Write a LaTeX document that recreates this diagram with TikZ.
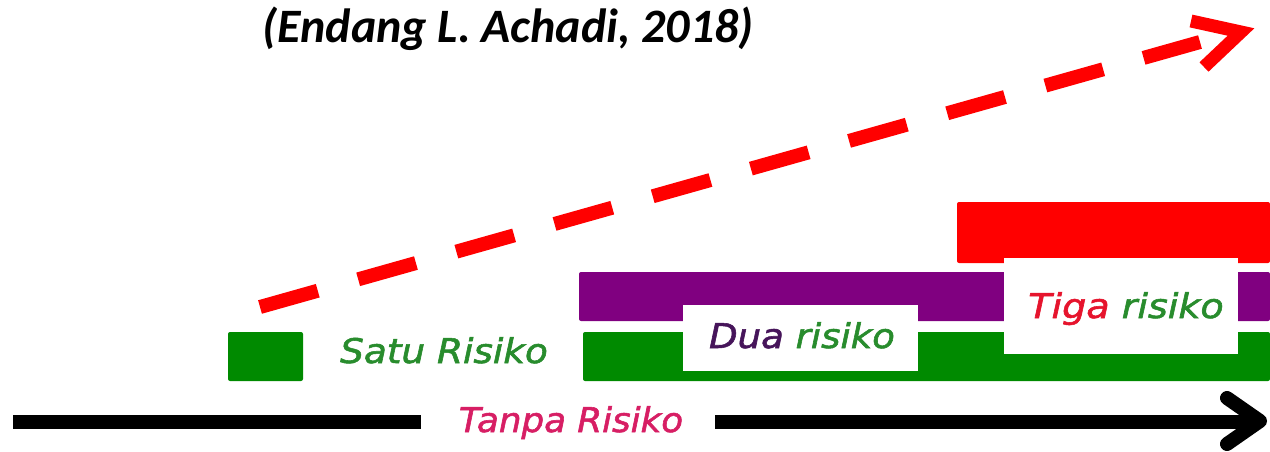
\documentclass[tikz,border=0pt]{standalone}
\usepackage{fontspec}
\newfontfamily\comicfont{DejaVu Sans Oblique}[RawFeature={embolden=1.6}]
\newfontfamily\titlefont{Carlito}
\usetikzlibrary{calc}
\definecolor{barGreen}{RGB}{0,138,0}
\definecolor{barPurple}{RGB}{128,0,128}
\definecolor{barRed}{RGB}{255,0,0}
\definecolor{txtGreen}{RGB}{40,140,45}
\definecolor{txtPurple}{RGB}{70,20,90}
\definecolor{txtRed}{RGB}{230,20,45}
\definecolor{txtPink}{RGB}{215,30,100}
\tikzset{
  bar/.style={rectangle, inner sep=0pt, draw=none, rounded corners=2pt},
  labelbox/.style={rectangle, inner sep=0pt, fill=white, draw=none},
  lbl/.style={inner sep=0pt, anchor=base, font=\comicfont\fontsize{34}{40}\selectfont},
  redline/.style={draw=barRed, line width=14pt, dash pattern=on 60pt off 42pt},
  redhead/.style={draw=barRed, line width=13pt, line join=miter, line cap=butt},
  blackline/.style={draw=black, line width=14pt},
  blackhead/.style={draw=black, line width=14pt, line join=round, line cap=round}
}
\begin{document}
\begin{tikzpicture}[x=1pt,y=-1pt]
\useasboundingbox (0,0) rectangle (1270,452);
\fill[white] (0,0) rectangle (1270,452);
% title
\node[inner sep=0pt, anchor=base, font=\titlefont\bfseries\itshape\fontsize{48}{54}\selectfont] (title) at (508,43) {(Endang L. Achadi, 2018)};
% bars
\node[bar, fill=barRed, minimum width=313pt, minimum height=61pt] (redbar) at (1113.5,232.5) {};
\node[bar, fill=barPurple, minimum width=691pt, minimum height=49pt] (purplebar) at (924.5,296.5) {};
\node[bar, fill=barGreen, minimum width=687pt, minimum height=49pt] (greenbar) at (926.5,356.5) {};
\node[bar, fill=barGreen, minimum width=75pt, minimum height=49pt] (satubox) at (265.5,356.5) {};
% label boxes
\node[labelbox, minimum width=235pt, minimum height=66pt] (duabox) at (800.5,338) {};
\node[labelbox, minimum width=234pt, minimum height=96pt] (tigabox) at (1121,306) {};
% labels
\node[lbl, text=txtGreen] (satu) at (444,363) {\scalebox{1.1}[1]{Satu Risiko}};
\node[lbl] (dua) at (802,348) {\scalebox{1.09}[1]{\textcolor{txtPurple}{Dua} \textcolor{txtGreen}{risiko}}};
\node[lbl] (tiga) at (1126,318) {\scalebox{1.12}[1]{\textcolor{txtRed}{Tiga} \textcolor{txtGreen}{risiko}}};
\node[lbl, text=txtPink] (tanpa) at (571,432) {\scalebox{1.05}[1]{Tanpa Risiko}};
% red dashed arrow
\coordinate (rs) at (260,307);
\coordinate (re) at (1200,42);
\coordinate (rt) at (1241,32);
\coordinate (ra1) at (1191,21);
\coordinate (ra2) at (1204,67);
\draw[redline] (rs) -- (re);
\draw[redhead] (ra1) -- (rt) -- (ra2);
% black arrow
\coordinate (bs) at (13,422);
\coordinate (bl) at (421,422);
\draw[blackline] (bs) -- (bl);
\coordinate (bm) at (715,422);
\coordinate (be) at (1258,422);
\draw[blackline] (bm) -- (be);
\coordinate (bt) at (1260,421);
\coordinate (ba1) at (1227,398);
\coordinate (ba2) at (1227,444);
\draw[blackhead] (ba1) -- (bt) -- (ba2);
\end{tikzpicture}
\end{document}
